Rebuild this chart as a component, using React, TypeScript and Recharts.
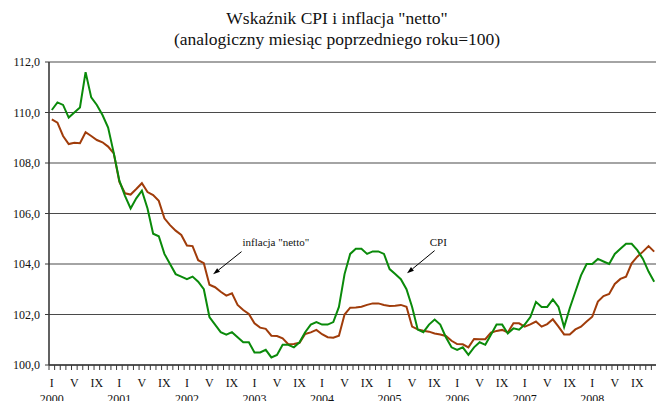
import React from 'react';
import {
  LineChart,
  Line,
  XAxis,
  YAxis,
  CartesianGrid,
  ReferenceLine,
  ReferenceDot,
} from 'recharts';

// Jan 2000 .. Dec 2008, one value per month
const years = ['2000', '2001', '2002', '2003', '2004', '2005', '2006', '2007', '2008'];
const monthLabels = ['I', '', '', '', 'V', '', '', '', 'IX', '', '', ''];

const cpi = [
  110.1, 110.4, 110.3, 109.8, 110.0, 110.2, 111.6, 110.6, 110.3, 109.9, 109.4, 108.4,
  107.3, 106.7, 106.2, 106.6, 106.9, 106.2, 105.2, 105.1, 104.4, 104.0, 103.6, 103.5,
  103.4, 103.5, 103.3, 103.0, 101.9, 101.6, 101.3, 101.2, 101.3, 101.1, 100.9, 100.9,
  100.5, 100.5, 100.6, 100.3, 100.4, 100.8, 100.8, 100.7, 100.9, 101.3, 101.6, 101.7,
  101.6, 101.6, 101.7, 102.3, 103.6, 104.4, 104.6, 104.6, 104.4, 104.5, 104.5, 104.4,
  103.8, 103.6, 103.4, 103.0, 102.3, 101.4, 101.3, 101.6, 101.8, 101.6, 101.1, 100.7,
  100.6, 100.7, 100.4, 100.7, 100.9, 100.8, 101.2, 101.6, 101.6, 101.25, 101.45, 101.4,
  101.6, 101.9, 102.5, 102.3, 102.3, 102.6, 102.3, 101.5, 102.25, 102.9, 103.55, 104.0,
  104.0, 104.2, 104.1, 104.0, 104.4, 104.6, 104.8, 104.8, 104.55, 104.2, 103.7, 103.3,
];

const netto = [
  109.73, 109.6, 109.07, 108.75, 108.8, 108.78, 109.22, 109.07, 108.91, 108.82, 108.65, 108.38,
  107.25, 106.8, 106.75, 106.97, 107.2, 106.85, 106.73, 106.5, 105.81, 105.54, 105.32, 105.15,
  104.73, 104.71, 104.15, 104.03, 103.18, 103.08, 102.9, 102.75, 102.84, 102.38, 102.18, 102.02,
  101.65, 101.48, 101.43, 101.16, 101.15, 101.06, 100.82, 100.83, 100.88, 101.23, 101.29, 101.39,
  101.22, 101.1, 101.08, 101.16, 102.0, 102.27, 102.28, 102.31, 102.38, 102.44, 102.44, 102.38,
  102.34, 102.35, 102.38, 102.31, 101.52, 101.41, 101.36, 101.32, 101.25, 101.21, 101.15, 100.96,
  100.83, 100.82, 100.7, 101.03, 101.02, 101.02, 101.28, 101.35, 101.39, 101.29, 101.65, 101.65,
  101.52, 101.61, 101.72, 101.52, 101.62, 101.81, 101.52, 101.21, 101.21, 101.41, 101.52, 101.72,
  101.91, 102.51, 102.73, 102.81, 103.21, 103.41, 103.5, 104.03, 104.29, 104.49, 104.71, 104.49,
];

const yTicks = [100, 102, 104, 106, 108, 110, 112];

// annotation text anchors and arrows, in data coordinates (month index, value)
const notes = [
  { text: 'inflacja "netto"', at: [39.8, 104.86], from: [33.7, 104.49], to: [28.65, 103.59] },
  { text: 'CPI', at: [68.65, 104.88], from: [68.0, 104.53], to: [63.1, 103.63] },
];

const data = cpi.map((v, i) => ({ idx: i, cpi: v, netto: netto[i] }));
const monthTicks = data.map((d) => d.idx);

const FONT = "'Liberation Serif', 'Times New Roman', serif";
const AXIS = '#3a3a3a';
const CHART_W = 660;
const PLOT_W = 608;
const HALF = PLOT_W / cpi.length / 2;

const MonthTick = (props: any) => {
  const { x, y, payload } = props;
  const i = payload.value as number;
  const m = i % 12;
  const label = monthLabels[m];
  return (
    <g>
      <line x1={x - HALF} y1={y} x2={x - HALF} y2={y + 5} stroke={AXIS} strokeWidth={1} />
      {label && (
        <text x={x} y={y + 22} textAnchor="middle" fontSize={12} fontFamily={FONT} fill="#111">
          {label}
        </text>
      )}
      {m === 0 && (
        <text x={x} y={y + 38} textAnchor="middle" fontSize={12} fontFamily={FONT} fill="#111">
          {years[i / 12]}
        </text>
      )}
    </g>
  );
};

const Arrow = (p: any) => {
  const { x1, y1, x2, y2 } = p;
  const dx = x2 - x1;
  const dy = y2 - y1;
  const len = Math.sqrt(dx * dx + dy * dy) || 1;
  const ux = dx / len;
  const uy = dy / len;
  const hl = 7;
  const hw = 2.3;
  const bx = x2 - ux * hl;
  const by = y2 - uy * hl;
  return (
    <g>
      <line x1={x1} y1={y1} x2={bx} y2={by} stroke="#000" strokeWidth={1} />
      <polygon
        points={`${x2},${y2} ${bx - uy * hw},${by + ux * hw} ${bx + uy * hw},${by - ux * hw}`}
        fill="#000"
      />
    </g>
  );
};

const App: React.FC = () => {
  return (
    <div style={{ position: 'relative', width: 656, height: 401, overflow: 'hidden', background: '#fff' }}>
      <style>{'body{margin:0}'}</style>
      <svg width={656} height={60} style={{ position: 'absolute', left: 0, top: 0 }}>
        <text x={337} y={24} textAnchor="middle" fontSize={17.5} fontFamily={FONT} fill="#111">
          Wskaźnik CPI i inflacja "netto"
        </text>
        <text x={337} y={45} textAnchor="middle" fontSize={17.5} fontFamily={FONT} fill="#111">
          (analogiczny miesiąc poprzedniego roku=100)
        </text>
      </svg>
      <div style={{ position: 'absolute', left: 0, top: 0 }}>
        <LineChart width={CHART_W} height={401} data={data} margin={{ top: 62, right: 3, bottom: 6, left: 0 }}>
          <CartesianGrid vertical={false} stroke="#4a4a4a" strokeWidth={1.2} />
          <XAxis
            dataKey="idx"
            type="number"
            domain={[-0.5, cpi.length - 0.5]}
            ticks={monthTicks}
            interval={0}
            tickSize={0}
            tickMargin={0}
            tickLine={false}
            axisLine={{ stroke: AXIS, strokeWidth: 1.6 }}
            tick={<MonthTick />}
            height={30}
          />
          <YAxis
            type="number"
            domain={[100, 112]}
            ticks={yTicks}
            width={49}
            tickSize={4}
            tickMargin={5}
            tickLine={{ stroke: AXIS }}
            axisLine={{ stroke: AXIS, strokeWidth: 1.6 }}
            tickFormatter={(v: number) => v.toFixed(1).replace('.', ',')}
            tick={{ fontSize: 12, fontFamily: FONT, fill: '#111' }}
          />
          <Line
            dataKey="netto"
            stroke="#a03c0a"
            strokeWidth={2}
            dot={false}
            isAnimationActive={false}
            type="linear"
          />
          <Line
            dataKey="cpi"
            stroke="#0a8a0a"
            strokeWidth={2}
            dot={false}
            isAnimationActive={false}
            type="linear"
          />
          {notes.map((n) => (
            <ReferenceLine
              key={'a' + n.text}
              segment={[
                { x: n.from[0], y: n.from[1] },
                { x: n.to[0], y: n.to[1] },
              ]}
              shape={(p: any) => <Arrow {...p} />}
            />
          ))}
          {notes.map((n) => (
            <ReferenceDot
              key={'t' + n.text}
              x={n.at[0]}
              y={n.at[1]}
              r={0}
              shape={(p: any) => (
                <text
                  x={p.cx}
                  y={p.cy}
                  dy="0.35em"
                  textAnchor="middle"
                  fontSize={11}
                  fontFamily={FONT}
                  fill="#111"
                >
                  {n.text}
                </text>
              )}
            />
          ))}
        </LineChart>
      </div>
    </div>
  );
};

export default App;
